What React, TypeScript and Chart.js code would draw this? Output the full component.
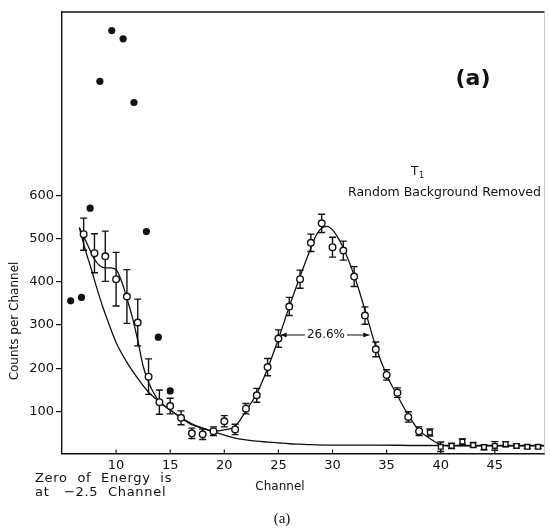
import { useEffect, useRef } from "react";
import { Chart, registerables } from "chart.js";

Chart.register(...registerables);

// Open circles: background-subtracted counts with error bars
const channels = [7, 8, 9, 10, 11, 12, 13, 14, 15, 16, 17, 18, 19, 20, 21, 22, 23, 24, 25, 26, 27, 28, 29, 30, 31, 32, 33, 34, 35, 36, 37, 38, 39, 40, 41, 42, 43, 44, 45, 46, 47, 48, 49];
const counts = [510, 466, 459, 406, 366, 306, 181, 122, 113, 86, 50, 48, 55, 78, 59, 107, 138, 203, 269, 343, 406, 490, 535, 480, 472, 412, 322, 244, 185, 144, 88, 55, 52, 19, 21, 31, 23, 18, 21, 25, 21, 19, 19];
const errors = [37, 45, 58, 62, 62, 54, 41, 28, 18, 16, 12, 12, 10, 13, 12, 12, 16, 20, 20, 21, 21, 20, 21, 23, 22, 23, 20, 17, 12, 11, 12, 10, 8, 11, 6, 6, 6, 6, 10, 6, 5, 4, 4];

// Filled dots: raw counts
const rawChannels = [5.8, 6.8, 7.6, 8.5, 9.6, 10.65, 11.65, 12.8, 13.9, 15.0];
const rawCounts = [356, 364, 570, 863, 980, 961, 814, 516, 272, 148];

// Fitted curve through the data
const fitChannels = [6.6, 7, 7.5, 8, 8.5, 9, 9.5, 10, 10.5, 11, 11.5, 12, 12.5, 13, 13.5, 14, 15, 16, 17, 18, 19, 20, 21, 22, 23, 24, 25, 26, 27, 28, 28.5, 29, 29.5, 30, 30.5, 31, 32, 33, 34, 35, 36, 37, 38, 39, 40, 41, 43, 46, 49.6];
const fitCounts = [525, 505, 478, 452, 437, 432, 432, 428, 402, 362, 318, 265, 205, 168, 142, 123, 104, 86, 70, 62, 55, 58, 66, 102, 142, 200, 268, 342, 412, 478, 508, 524, 528, 520, 502, 478, 415, 335, 250, 185, 137, 92, 57, 38, 24, 21, 21, 21, 21];

// Background curve
const bgChannels = [6.6, 7.2, 7.7, 8.2, 8.7, 9.2, 10, 11, 12, 13, 14, 15, 16, 17, 18, 19, 20, 21, 22, 23, 24, 25, 26, 27, 28, 30, 34, 38, 42, 46, 49.6];
const bgCounts = [525, 470, 430, 387, 347, 312, 260, 214, 177, 145, 123, 104, 87, 72, 62, 54, 46, 39, 35, 32, 30, 28, 26, 25, 24, 23, 23, 22, 22, 22, 22];

const xTicks = [10, 15, 20, 25, 30, 35, 40, 45];
const yTicks = [100, 200, 300, 400, 500, 600];

const FONT = "'DejaVu Sans', sans-serif";

const decorPlugin = {
  id: "decor",
  beforeDatasetsDraw(chart: any) {
    const { ctx, scales } = chart;
    const x = scales.x;
    const y = scales.y;
    ctx.save();
    ctx.strokeStyle = "#111";
    ctx.lineWidth = 1.4;
    for (let i = 0; i < channels.length; i++) {
      const px = x.getPixelForValue(channels[i]);
      const y1 = y.getPixelForValue(counts[i] + errors[i]);
      const y2 = y.getPixelForValue(counts[i] - errors[i]);
      ctx.beginPath();
      ctx.moveTo(px, y1);
      ctx.lineTo(px, y2);
      ctx.moveTo(px - 3.5, y1);
      ctx.lineTo(px + 3.5, y1);
      ctx.moveTo(px - 3.5, y2);
      ctx.lineTo(px + 3.5, y2);
      ctx.stroke();
    }
    ctx.restore();
  },
  afterDraw(chart: any) {
    const { ctx, chartArea, scales } = chart;
    const { left, right, top, bottom } = chartArea;
    const x = scales.x;
    const y = scales.y;
    ctx.save();
    // frame
    ctx.strokeStyle = "#111";
    ctx.lineWidth = 1.4;
    ctx.beginPath();
    ctx.moveTo(left, top);
    ctx.lineTo(right, top);
    ctx.stroke();
    ctx.strokeStyle = "#c8c8c8";
    ctx.lineWidth = 1;
    ctx.beginPath();
    ctx.moveTo(right, top);
    ctx.lineTo(right, bottom);
    ctx.stroke();
    // inner x ticks
    ctx.strokeStyle = "#111";
    ctx.lineWidth = 1.2;
    for (const t of xTicks) {
      const px = x.getPixelForValue(t);
      ctx.beginPath();
      ctx.moveTo(px, bottom);
      ctx.lineTo(px, bottom - 4);
      ctx.stroke();
    }
    // FWHM annotation
    const hy = y.getPixelForValue(277);
    const lx = x.getPixelForValue(25.2);
    const rx = x.getPixelForValue(33.4);
    ctx.fillStyle = "#111";
    ctx.font = `12px ${FONT}`;
    ctx.textAlign = "center";
    ctx.textBaseline = "middle";
    const label = "26.6%";
    const cx = (lx + rx) / 2 + 1;
    const tw = ctx.measureText(label).width;
    ctx.fillText(label, cx, hy);
    ctx.lineWidth = 1.1;
    ctx.beginPath();
    ctx.moveTo(cx - tw / 2 - 2, hy);
    ctx.lineTo(lx, hy);
    ctx.moveTo(cx + tw / 2 + 2, hy);
    ctx.lineTo(rx, hy);
    ctx.stroke();
    ctx.beginPath();
    ctx.moveTo(lx, hy);
    ctx.lineTo(lx + 6, hy - 2.5);
    ctx.lineTo(lx + 6, hy + 2.5);
    ctx.closePath();
    ctx.moveTo(rx, hy);
    ctx.lineTo(rx - 6, hy - 2.5);
    ctx.lineTo(rx - 6, hy + 2.5);
    ctx.closePath();
    ctx.fill();

    // big (a)
    ctx.font = `bold 22px ${FONT}`;
    ctx.textAlign = "center";
    ctx.fillText("(a)", 473, 79);

    // T1 and subtitle
    ctx.font = `12px ${FONT}`;
    ctx.textAlign = "left";
    ctx.fillText("T", 411, 172);
    ctx.font = `8px ${FONT}`;
    ctx.fillText("1", 419, 176);
    ctx.font = `12.5px ${FONT}`;
    ctx.textAlign = "left";
    ctx.fillText("Random Background Removed", 348, 193);

    // y axis title
    ctx.save();
    ctx.translate(15, 321);
    ctx.rotate(-Math.PI / 2);
    ctx.textAlign = "center";
    ctx.font = `12px ${FONT}`;
    ctx.fillText("Counts per Channel", 0, 0);
    ctx.restore();

    // x axis title
    ctx.font = `12px ${FONT}`;
    ctx.textAlign = "center";
    ctx.fillText("Channel", 280, 487);

    // note
    ctx.font = `13px ${FONT}`;
    ctx.textAlign = "left";
    (ctx as any).letterSpacing = "0.7px";
    ctx.fillText("Zero  of  Energy  is", 35, 479);
    ctx.fillText("at   \u22122.5  Channel", 35, 493);
    (ctx as any).letterSpacing = "0px";

    // caption
    ctx.font = `15px 'Liberation Serif', serif`;
    ctx.textAlign = "center";
    ctx.fillText("(a)", 282, 519);
    ctx.restore();
  },
};

export default function App() {
  const ref = useRef<HTMLCanvasElement | null>(null);
  useEffect(() => {
    if (!ref.current) return;
    const openStyles = channels.map((c) => (c >= 39 ? "rect" : "circle"));
    const chart = new Chart(ref.current, {
      type: "scatter",
      data: {
        datasets: [
          {
            label: "Background removed",
            data: channels.map((c, i) => ({ x: c, y: counts[i] })),
            pointStyle: openStyles as any,
            pointRadius: 3.3,
            backgroundColor: "#fff",
            borderColor: "#111",
            borderWidth: 1.4,
          },
          {
            label: "Raw",
            data: rawChannels.map((c, i) => ({ x: c, y: rawCounts[i] })),
            pointRadius: 3.6,
            backgroundColor: "#111",
            borderColor: "#111",
            borderWidth: 0,
          },
          {
            type: "line",
            label: "Fit",
            data: fitChannels.map((c, i) => ({ x: c, y: fitCounts[i] })),
            borderColor: "#111",
            borderWidth: 1.3,
            pointRadius: 0,
            cubicInterpolationMode: "monotone",
            fill: false,
          } as any,
          {
            type: "line",
            label: "Background",
            data: bgChannels.map((c, i) => ({ x: c, y: bgCounts[i] })),
            borderColor: "#111",
            borderWidth: 1.3,
            pointRadius: 0,
            cubicInterpolationMode: "monotone",
            fill: false,
          } as any,
        ],
      },
      options: {
        animation: false,
        responsive: false,
        layout: { padding: { top: 12, right: 2, left: 0, bottom: 0 } },
        plugins: {
          legend: { display: false },
          tooltip: { enabled: false },
          title: { display: false },
        },
        scales: {
          x: {
            type: "linear",
            min: 5,
            max: 49.6,
            afterBuildTicks: (scale: any) => {
              scale.ticks = xTicks.map((v) => ({ value: v }));
            },
            afterFit: (scale: any) => {
              scale.height = 77.5;
            },
            grid: { display: true, drawOnChartArea: false, drawTicks: false },
            border: { display: true, color: "#111", width: 1.4 },
            ticks: {
              color: "#111",
              padding: 4,
              font: { family: FONT, size: 13 },
              maxRotation: 0,
              autoSkip: false,
            },
          },
          y: {
            type: "linear",
            min: 3.5,
            max: 1023,
            afterBuildTicks: (scale: any) => {
              scale.ticks = yTicks.map((v) => ({ value: v }));
            },
            afterFit: (scale: any) => {
              scale.width = 62;
            },
            grid: {
              display: true,
              drawOnChartArea: false,
              drawTicks: true,
              tickLength: 6,
              color: "#111",
              lineWidth: 1.2,
            },
            border: { display: true, color: "#111", width: 1.4 },
            ticks: {
              color: "#111",
              padding: 2,
              font: { family: FONT, size: 13 },
              autoSkip: false,
            },
          },
        },
      },
      plugins: [decorPlugin],
    });
    return () => chart.destroy();
  }, []);
  return (
    <div style={{ position: "absolute", left: 0, top: 0, width: 550, height: 531, background: "#fff" }}>
      <canvas ref={ref} width={550} height={531} style={{ width: 550, height: 531 }} />
    </div>
  );
}
